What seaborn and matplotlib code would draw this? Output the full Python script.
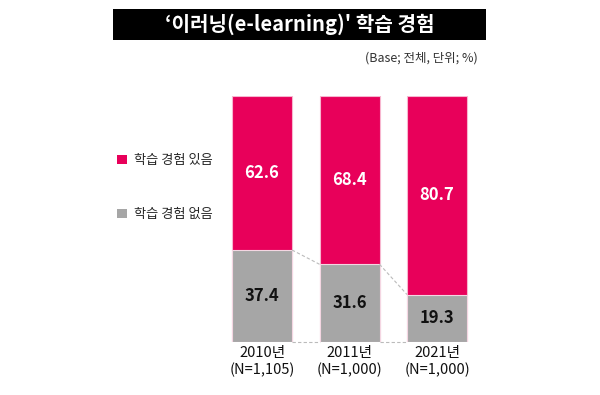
import matplotlib
matplotlib.use("Agg")
import matplotlib.pyplot as plt
import seaborn as sns
import pandas as pd
from matplotlib.patches import Rectangle, Patch

categories = ["2010년\n(N=1,105)", "2011년\n(N=1,000)", "2021년\n(N=1,000)"]
yes_vals = [62.6, 68.4, 80.7]
no_vals = [37.4, 31.6, 19.3]
series_names = ["학습 경험 있음", "학습 경험 없음"]
title = "‘이러닝(e-learning)' 학습 경험"
subtitle = "(Base; 전체, 단위; %)"

PINK = "#E8005A"
GRAY = "#A6A6A6"

sns.set_theme(style="white")
plt.rcParams["font.family"] = ["Noto Sans CJK KR", "DejaVu Sans"]

df = pd.DataFrame({"cat": categories, "yes": yes_vals, "no": no_vals})
df["total"] = df["yes"] + df["no"]

fig = plt.figure(figsize=(6, 3.95), dpi=100)
ax = fig.add_axes([200/600, 1-342/395, 300/600, (342-96)/395])

w = 60/87.5
sns.barplot(data=df, x="cat", y="total", color=PINK, width=w, ax=ax,
            saturation=1, edgecolor="#F7B6CF", linewidth=0.8)
sns.barplot(data=df, x="cat", y="no", color=GRAY, width=w, ax=ax,
            saturation=1, edgecolor="#F4D6E2", linewidth=0.8)

ax.set_xlim(-62/87.5, 2 + 63/87.5)
ax.set_ylim(0, 100)
ax.set_xlabel("")
ax.set_ylabel("")
ax.set_yticks([])
for s in ax.spines.values():
    s.set_visible(False)
ax.tick_params(axis="x", length=0, pad=3, labelsize=10.5, colors="#111111")

# connector lines
for i in range(len(categories) - 1):
    ax.plot([i + w/2, i + 1 - w/2], [no_vals[i], no_vals[i+1]],
            ls=(0, (3, 2)), color="#BBBBBB", lw=0.8)
    ax.plot([i + w/2, i + 1 - w/2], [0, 0],
            ls=(0, (3, 2)), color="#BBBBBB", lw=0.8, clip_on=False)

# value labels
for i in range(len(categories)):
    ax.text(i, no_vals[i] + yes_vals[i]/2, f"{yes_vals[i]:.1f}", ha="center", va="center",
            color="white", fontsize=12, fontweight="bold")
    ax.text(i, no_vals[i]/2, f"{no_vals[i]:.1f}", ha="center", va="center",
            color="#111111", fontsize=12, fontweight="bold")

# title box
fig.patches.append(Rectangle((113/600, 1-40/395), (486-113)/600, 31/395,
                             transform=fig.transFigure, facecolor="black", edgecolor="none"))
fig.text(300/600, 1-24.5/395, title, ha="center", va="center", color="white",
         fontsize=14.5, fontweight="bold")
fig.text(478/600, 1-58/395, subtitle, ha="right", va="center", color="#333333", fontsize=9)

# legend
leg = fig.legend(handles=[Patch(facecolor=PINK, edgecolor="none", label=series_names[0]),
                          Patch(facecolor=GRAY, edgecolor="none", label=series_names[1])],
                 loc="upper left", bbox_to_anchor=(112/600, 1-149/395), frameon=False,
                 fontsize=9.5, handlelength=0.7, handleheight=0.7, handletextpad=0.6,
                 labelspacing=3.1, borderaxespad=0)

fig.savefig("out.png", dpi=100, facecolor="white")
